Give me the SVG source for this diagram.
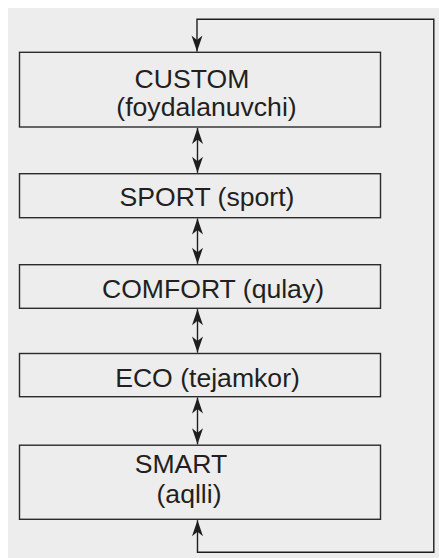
<svg xmlns="http://www.w3.org/2000/svg" width="439" height="558" viewBox="0 0 439 558">
<style>
.box{fill:none;stroke:#2b2b2b;stroke-width:1.4}
.lbl{font-family:"Liberation Sans",Arial,sans-serif;font-size:26.6px;fill:#231f20;text-anchor:middle}
.con{fill:none;stroke:#1e1e1e;stroke-width:1.4}
</style>
<defs>
<marker id="ah" markerUnits="userSpaceOnUse" markerWidth="18" markerHeight="14" viewBox="-17 -7 18 14" refX="0" refY="0" orient="auto-start-reverse">
<path d="M0,0 L-16,-5.5 L-11.5,0 L-16,5.5 Z" fill="#1e1e1e"/>
</marker>
</defs>
<rect x="8" y="8" width="431" height="550" fill="#ededed"/>
<g id="custom">
<rect class="box" x="19.5" y="52.3" width="361" height="74.7"/>
<text class="lbl" x="192" y="87.5">CUSTOM</text>
<text class="lbl" x="206.5" y="115.5">(foydalanuvchi)</text>
</g>
<g id="sport">
<rect class="box" x="19.5" y="173.7" width="361" height="44"/>
<text class="lbl" x="207" y="206">SPORT (sport)</text>
</g>
<g id="comfort">
<rect class="box" x="19.5" y="264.7" width="361" height="43.6"/>
<text class="lbl" x="213" y="298">COMFORT (qulay)</text>
</g>
<g id="eco">
<rect class="box" x="19.5" y="353.5" width="361" height="43.2"/>
<text class="lbl" x="207.5" y="386.5">ECO (tejamkor)</text>
</g>
<g id="smart">
<rect class="box" x="19.5" y="445.2" width="361" height="74.1"/>
<text class="lbl" x="181" y="473">SMART</text>
<text class="lbl" x="189" y="503">(aqlli)</text>
</g>
<g id="connectors">
<path class="con" d="M197.5,128 V172.8" marker-start="url(#ah)" marker-end="url(#ah)"/>
<path class="con" d="M197.5,218.5 V263.8" marker-start="url(#ah)" marker-end="url(#ah)"/>
<path class="con" d="M197.5,309.2 V352.6" marker-start="url(#ah)" marker-end="url(#ah)"/>
<path class="con" d="M197.5,397.5 V444.3" marker-start="url(#ah)" marker-end="url(#ah)"/>
<path class="con" d="M197.5,520.2 V552.3 H433.8 V19.3 H197 V51.5" marker-start="url(#ah)" marker-end="url(#ah)"/>
</g>
</svg>
